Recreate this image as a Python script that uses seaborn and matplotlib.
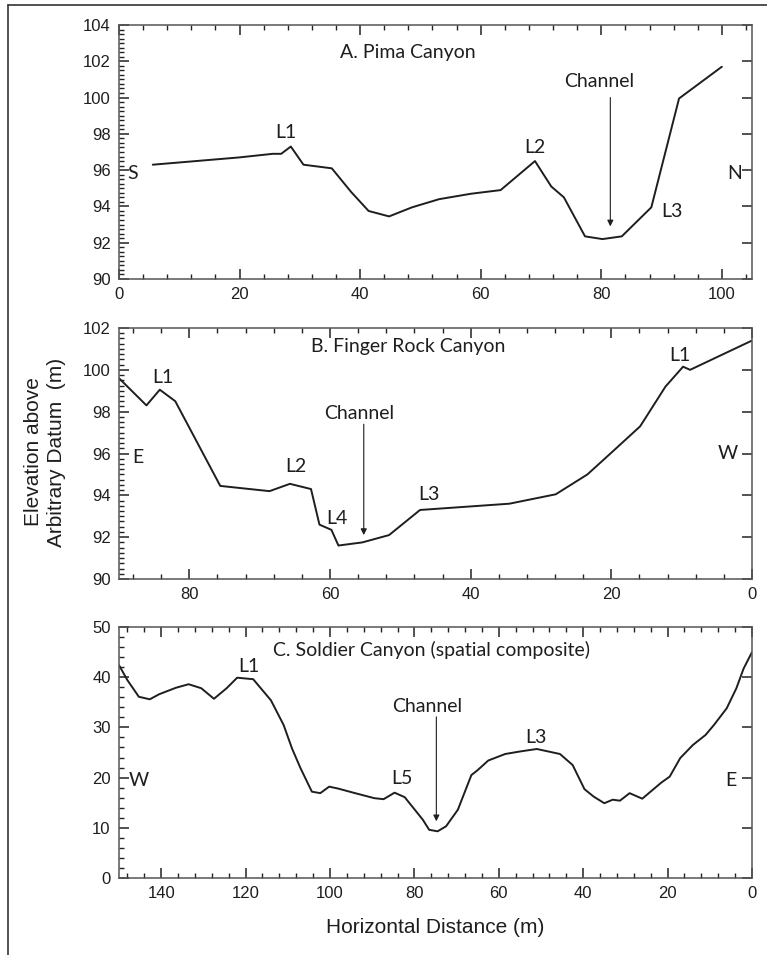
import matplotlib
matplotlib.use("Agg")
import matplotlib.pyplot as plt
from matplotlib.lines import Line2D
from matplotlib.ticker import MultipleLocator
import pandas as pd
import seaborn as sns

# A. Pima Canyon (distance S->N, elevation)
pima_x = [5.6, 19.9, 25.5, 26.9, 28.5, 30.6, 35.3, 38.5, 41.4, 44.8, 48.6, 53.1,
          58.4, 63.3, 69.0, 71.7, 73.8, 77.3, 80.2, 83.4, 88.3, 92.9, 100.0]
pima_y = [96.3, 96.7, 96.9, 96.9, 97.3, 96.3, 96.1, 94.8, 93.75, 93.45, 93.95, 94.4,
          94.7, 94.9, 96.5, 95.1, 94.5, 92.35, 92.2, 92.35, 93.95, 99.95, 101.7]

# B. Finger Rock Canyon
finger_x = [90.0, 86.1, 84.2, 82.0, 75.6, 68.6, 65.7, 62.7, 61.5, 59.8, 58.8, 55.4,
            51.6, 47.2, 34.5, 27.9, 23.4, 19.8, 15.9, 12.3, 9.8, 8.8, 0.0]
finger_y = [99.6, 98.3, 99.05, 98.5, 94.45, 94.2, 94.55, 94.3, 92.6, 92.35, 91.6, 91.75,
            92.1, 93.3, 93.6, 94.05, 95.0, 96.1, 97.3, 99.2, 100.15, 100.0, 101.4]

# C. Soldier Canyon (spatial composite)
soldier_x = [150, 148, 145.3, 142.7, 140.5, 136.5, 133.5, 130.5, 127.5, 124.5, 122, 118.2,
             114, 111, 109, 107, 104.3, 102.3, 100.2, 98, 94.5, 89.5, 87.3, 84.7, 82.3,
             80, 78, 76.5, 74.5, 72.5, 69.7, 66.5, 65, 62.5, 58.5, 55, 51, 45.5, 42.5,
             39.7, 37.5, 35, 33, 31.3, 29, 26, 21.5, 19.5, 17, 14, 11, 9, 6, 3.7, 2, 0]
soldier_y = [42.4, 39.4, 36.1, 35.6, 36.6, 37.9, 38.6, 37.8, 35.7, 37.8, 39.9, 39.6,
             35.4, 30.5, 25.8, 21.9, 17.2, 16.9, 18.2, 17.8, 17.0, 15.9, 15.7, 17.0, 16.1,
             13.7, 11.6, 9.6, 9.3, 10.3, 13.6, 20.5, 21.5, 23.4, 24.7, 25.2, 25.7, 24.7, 22.5,
             17.7, 16.2, 14.9, 15.6, 15.4, 16.9, 15.8, 19.0, 20.2, 23.9, 26.5, 28.5, 30.5, 33.8,
             37.8, 41.7, 45.0]

# labels: (text, x, y)
pima_labels = [("A. Pima Canyon", 47.9, 102.5), ("L1", 27.6, 98.05), ("L2", 69.0, 97.25),
               ("L3", 91.8, 93.7), ("S", 2.3, 95.8), ("N", 102.1, 95.8), ("Channel", 79.7, 100.9)]
finger_labels = [("B. Finger Rock Canyon", 48.9, 101.1), ("L1", 83.8, 99.65), ("E", 87.3, 95.8),
                 ("L2", 64.8, 95.4), ("L4", 59.0, 92.9), ("Channel", 55.8, 97.9),
                 ("L3", 46.0, 94.05), ("L1", 10.3, 100.7), ("W", 3.4, 96.0)]
soldier_labels = [("C. Soldier Canyon (spatial composite)", 76.0, 45.4), ("L1", 119.3, 42.2),
                  ("Channel", 77.0, 34.1), ("L5", 83.0, 19.9), ("L3", 51.3, 28.0),
                  ("W", 145.3, 19.5), ("E", 5.0, 19.5)]

# channel arrows: (x, y_tail, y_tip)
pima_arrow = (81.5, 100.0, 92.9)
finger_arrow = (55.2, 97.4, 92.1)
soldier_arrow = (74.8, 32.1, 11.3)

sns.set_theme(style="ticks")
plt.rcParams.update({
    "font.family": ["Liberation Sans", "DejaVu Sans"],
    "xtick.direction": "in",
    "ytick.direction": "in",
    "xtick.top": True,
    "ytick.right": True,
    "xtick.major.size": 7,
    "ytick.major.size": 7,
    "xtick.minor.size": 3.5,
    "ytick.minor.size": 3.5,
    "xtick.major.width": 1.1,
    "ytick.major.width": 1.1,
    "xtick.minor.width": 1.0,
    "ytick.minor.width": 1.0,
    "xtick.color": "#222222",
    "ytick.color": "#222222",
})

LABEL_FONT = ["Lato", "DejaVu Sans"]
INK = "#1e1e1e"

fig = plt.figure(figsize=(7.67, 9.55), dpi=100)

left, width = 119 / 767, (752 - 119) / 767
boxes = [(25, 279), (328, 579), (627, 878)]
axes = [fig.add_axes([left, 1 - b / 955, width, (b - t) / 955]) for t, b in boxes]

panels = [
    (pima_x, pima_y, pima_labels, pima_arrow, (0, 105), (90, 104), 2, 0.25),
    (finger_x, finger_y, finger_labels, finger_arrow, (90, 0), (90, 102), 2, 0.25),
    (soldier_x, soldier_y, soldier_labels, soldier_arrow, (150, 0), (0, 50), 10, 2),
]

for ax, (xs, ys, labels, arrow, xlim, ylim, ymaj, ymin) in zip(axes, panels):
    df = pd.DataFrame({"dist": xs, "elev": ys})
    sns.lineplot(data=df, x="dist", y="elev", ax=ax, color=INK, lw=1.4,
                 estimator=None, sort=False)
    ax.set_xlim(*xlim)
    ax.set_ylim(*ylim)
    ax.xaxis.set_major_locator(MultipleLocator(20))
    ax.xaxis.set_minor_locator(MultipleLocator(4))
    ax.yaxis.set_major_locator(MultipleLocator(ymaj))
    ax.yaxis.set_minor_locator(MultipleLocator(ymin))
    ax.tick_params(which="both", direction="in", top=True, right=True,
                   color="#222222", labelcolor=INK, labelsize=12)
    ax.tick_params(which="major", length=7, width=1.1, pad=6)
    ax.tick_params(which="minor", length=3.5, width=1.0, right=False)
    for s in ax.spines.values():
        s.set_color("#555555")
        s.set_linewidth(1.1)
    ax.set_xlabel("")
    ax.set_ylabel("")
    for txt, x, y in labels:
        ax.text(x, y, txt, ha="center", va="center", fontsize=14,
                family=LABEL_FONT, color=INK)
    ax_x, y0, y1 = arrow
    ax.annotate("", xy=(ax_x, y1), xytext=(ax_x, y0),
                arrowprops=dict(arrowstyle="-|>", color=INK, lw=0.8,
                                mutation_scale=9, shrinkA=0, shrinkB=0))

fig.text(45 / 767, 1 - 452 / 955, "Elevation above\nArbitrary Datum  (m)",
         rotation=90, ha="center", va="center", fontsize=15, color=INK,
         multialignment="center")
fig.text(435 / 767, 1 - 927 / 955, "Horizontal Distance (m)", ha="center",
         va="center", fontsize=15, color=INK)

# outer frame (left and top edges)
fig.add_artist(Line2D([8 / 767, 8 / 767], [0, 1 - 5 / 955], transform=fig.transFigure,
                      color="#333333", lw=1.2))
fig.add_artist(Line2D([8 / 767, 1], [1 - 5 / 955, 1 - 5 / 955], transform=fig.transFigure,
                      color="#333333", lw=1.2))

fig.savefig("out.png", dpi=100)
plt.close(fig)
